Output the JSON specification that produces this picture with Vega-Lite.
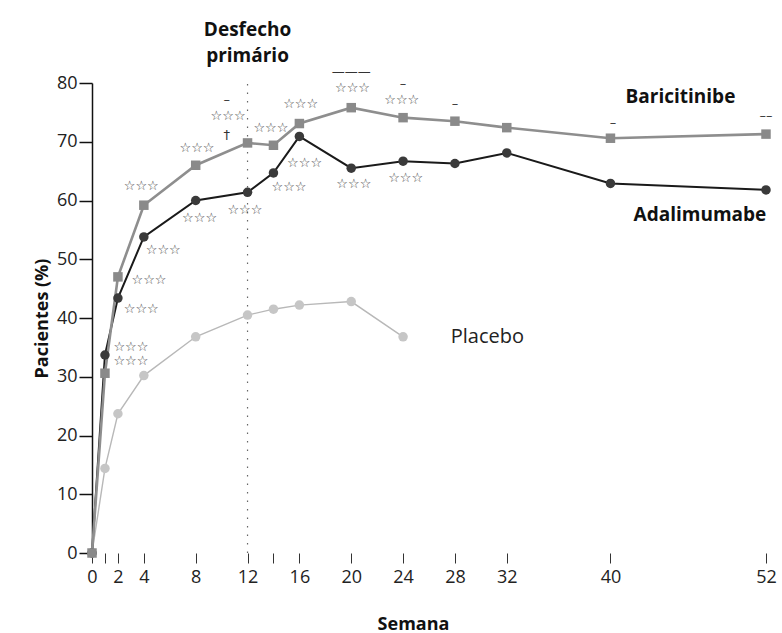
{
  "$schema": "https://vega.github.io/schema/vega-lite/v6.json",
  "width": 674,
  "height": 470,
  "autosize": {"type": "none"},
  "padding": {"left": 92, "top": 83, "right": 16, "bottom": 80},
  "background": "white",
  "config": {
    "view": {"stroke": null},
    "axis": {
      "labelFont": "Open Sans",
      "labelFontSize": 18,
      "labelColor": "#222",
      "titleFont": "Open Sans",
      "titleFontSize": 18,
      "titleFontWeight": "bold",
      "titleColor": "#111",
      "grid": false
    }
  },
  "datasets": {
    "series": [
      {"series": "Placebo", "week": 0, "value": 0},
      {"series": "Placebo", "week": 1, "value": 14.4},
      {"series": "Placebo", "week": 2, "value": 23.7},
      {"series": "Placebo", "week": 4, "value": 30.2},
      {"series": "Placebo", "week": 8, "value": 36.8},
      {"series": "Placebo", "week": 12, "value": 40.5},
      {"series": "Placebo", "week": 14, "value": 41.5},
      {"series": "Placebo", "week": 16, "value": 42.2},
      {"series": "Placebo", "week": 20, "value": 42.8},
      {"series": "Placebo", "week": 24, "value": 36.8},
      {"series": "Adalimumabe", "week": 0, "value": 0},
      {"series": "Adalimumabe", "week": 1, "value": 33.7},
      {"series": "Adalimumabe", "week": 2, "value": 43.4},
      {"series": "Adalimumabe", "week": 4, "value": 53.8},
      {"series": "Adalimumabe", "week": 8, "value": 60.0},
      {"series": "Adalimumabe", "week": 12, "value": 61.4},
      {"series": "Adalimumabe", "week": 14, "value": 64.7},
      {"series": "Adalimumabe", "week": 16, "value": 70.9},
      {"series": "Adalimumabe", "week": 20, "value": 65.5},
      {"series": "Adalimumabe", "week": 24, "value": 66.7},
      {"series": "Adalimumabe", "week": 28, "value": 66.3},
      {"series": "Adalimumabe", "week": 32, "value": 68.1},
      {"series": "Adalimumabe", "week": 40, "value": 62.9},
      {"series": "Adalimumabe", "week": 52, "value": 61.8},
      {"series": "Baricitinibe", "week": 0, "value": 0},
      {"series": "Baricitinibe", "week": 1, "value": 30.6},
      {"series": "Baricitinibe", "week": 2, "value": 47.0},
      {"series": "Baricitinibe", "week": 4, "value": 59.2},
      {"series": "Baricitinibe", "week": 8, "value": 66.0},
      {"series": "Baricitinibe", "week": 12, "value": 69.8},
      {"series": "Baricitinibe", "week": 14, "value": 69.4},
      {"series": "Baricitinibe", "week": 16, "value": 73.1},
      {"series": "Baricitinibe", "week": 20, "value": 75.8},
      {"series": "Baricitinibe", "week": 24, "value": 74.1},
      {"series": "Baricitinibe", "week": 28, "value": 73.5},
      {"series": "Baricitinibe", "week": 32, "value": 72.4},
      {"series": "Baricitinibe", "week": 40, "value": 70.6},
      {"series": "Baricitinibe", "week": 52, "value": 71.3}
    ],
    "stars": [
      {"week": 3.8, "value": 62.5, "t": "☆☆☆"},
      {"week": 5.5, "value": 51.5, "t": "☆☆☆"},
      {"week": 4.4, "value": 46.5, "t": "☆☆☆"},
      {"week": 3.8, "value": 41.5, "t": "☆☆☆"},
      {"week": 3.0, "value": 35.1, "t": "☆☆☆"},
      {"week": 3.0, "value": 32.6, "t": "☆☆☆"},
      {"week": 8.1, "value": 68.9, "t": "☆☆☆"},
      {"week": 8.3, "value": 57.1, "t": "☆☆☆"},
      {"week": 10.5, "value": 74.4, "t": "☆☆☆"},
      {"week": 11.8, "value": 58.3, "t": "☆☆☆"},
      {"week": 13.8, "value": 72.4, "t": "☆☆☆"},
      {"week": 15.2, "value": 62.3, "t": "☆☆☆"},
      {"week": 16.4, "value": 66.4, "t": "☆☆☆"},
      {"week": 16.1, "value": 76.4, "t": "☆☆☆"},
      {"week": 20.1, "value": 79.1, "t": "☆☆☆"},
      {"week": 20.2, "value": 62.8, "t": "☆☆☆"},
      {"week": 23.9, "value": 77.1, "t": "☆☆☆"},
      {"week": 24.2, "value": 63.8, "t": "☆☆☆"}
    ],
    "marks": [
      {"week": 10.4, "value": 77.1, "t": "–"},
      {"week": 10.4, "value": 71.1, "t": "†"},
      {"week": 20.0, "value": 81.8, "t": "———"},
      {"week": 24.0, "value": 79.8, "t": "–"},
      {"week": 28.0, "value": 76.4, "t": "–"},
      {"week": 40.2, "value": 73.2, "t": "–"},
      {"week": 52.0, "value": 74.3, "t": "––"}
    ],
    "boldLabels": [
      {"week": 45.4, "value": 77.6, "t": "Baricitinibe"},
      {"week": 46.9, "value": 57.5, "t": "Adalimumabe"},
      {"week": 12.0, "value": 89.0, "t": "Desfecho"},
      {"week": 12.0, "value": 84.6, "t": "primário"}
    ],
    "plainLabels": [
      {"week": 30.5, "value": 36.8, "t": "Placebo"}
    ],
    "ref": [
      {"week": 12, "y1": 0, "y2": 80.5}
    ]
  },
  "layer": [
    {
      "data": {"name": "ref"},
      "mark": {"type": "rule", "color": "#666", "strokeWidth": 1.2, "strokeDash": [1.5, 7]},
      "encoding": {
        "x": {"field": "week", "type": "quantitative"},
        "y": {"field": "y1", "type": "quantitative"},
        "y2": {"field": "y2"}
      }
    },
    {
      "data": {"name": "series"},
      "mark": {"type": "line"},
      "encoding": {
        "x": {
          "field": "week",
          "type": "quantitative",
          "scale": {"domain": [0, 52], "nice": false, "zero": false},
          "axis": {
            "title": "Semana",
            "values": [0, 1, 2, 4, 8, 12, 14, 16, 20, 24, 28, 32, 40, 52],
            "labelExpr": "datum.value == 1 || datum.value == 14 ? '' : datum.label",
            "domain": false,
            "ticks": true,
            "tickColor": "#333",
            "tickSize": 10,
            "tickWidth": 1,
            "labelPadding": 5,
            "labelFlush": false,
            "labelOverlap": false,
            "titleX": 321,
            "titleY": 62,
            "titleAnchor": "middle"
          }
        },
        "y": {
          "field": "value",
          "type": "quantitative",
          "scale": {"domain": [0, 80], "nice": false},
          "axis": {
            "title": "Pacientes (%)",
            "values": [0, 10, 20, 30, 40, 50, 60, 70, 80],
            "domainColor": "#111",
            "domainWidth": 1.5,
            "tickColor": "#111",
            "tickWidth": 1.5,
            "tickSize": 13,
            "labelPadding": 2,
            "titlePadding": 5
          }
        },
        "color": {
          "field": "series",
          "type": "nominal",
          "scale": {"domain": ["Placebo", "Adalimumabe", "Baricitinibe"], "range": ["#b8b8b8", "#1a1a1a", "#8e8e8e"]},
          "legend": null
        },
        "strokeWidth": {
          "field": "series",
          "type": "nominal",
          "scale": {"domain": ["Placebo", "Adalimumabe", "Baricitinibe"], "range": [1.4, 2.6, 2]},
          "legend": null
        }
      }
    },
    {
      "data": {"name": "series"},
      "mark": {"type": "point", "filled": true, "opacity": 1, "size": 90},
      "encoding": {
        "x": {"field": "week", "type": "quantitative"},
        "y": {"field": "value", "type": "quantitative"},
        "shape": {
          "field": "series",
          "type": "nominal",
          "scale": {"domain": ["Placebo", "Adalimumabe", "Baricitinibe"], "range": ["circle", "circle", "square"]},
          "legend": null
        },
        "fill": {
          "field": "series",
          "type": "nominal",
          "scale": {"domain": ["Placebo", "Adalimumabe", "Baricitinibe"], "range": ["#c6c6c6", "#3a3a3a", "#8a8a8a"]},
          "legend": null
        }
      }
    },
    {
      "data": {"name": "stars"},
      "mark": {"type": "text", "font": "DejaVu Sans", "fontSize": 13, "color": "#444", "align": "center", "baseline": "middle"},
      "encoding": {
        "x": {"field": "week", "type": "quantitative"},
        "y": {"field": "value", "type": "quantitative"},
        "text": {"field": "t"}
      }
    },
    {
      "data": {"name": "marks"},
      "mark": {"type": "text", "font": "DejaVu Sans", "fontSize": 13, "color": "#333", "align": "center", "baseline": "middle"},
      "encoding": {
        "x": {"field": "week", "type": "quantitative"},
        "y": {"field": "value", "type": "quantitative"},
        "text": {"field": "t"}
      }
    },
    {
      "data": {"name": "boldLabels"},
      "mark": {"type": "text", "font": "Open Sans", "fontSize": 19, "fontWeight": "bold", "color": "#111", "align": "center", "baseline": "middle"},
      "encoding": {
        "x": {"field": "week", "type": "quantitative"},
        "y": {"field": "value", "type": "quantitative"},
        "text": {"field": "t"}
      }
    },
    {
      "data": {"name": "plainLabels"},
      "mark": {"type": "text", "font": "Open Sans", "fontSize": 20, "color": "#222", "align": "center", "baseline": "middle"},
      "encoding": {
        "x": {"field": "week", "type": "quantitative"},
        "y": {"field": "value", "type": "quantitative"},
        "text": {"field": "t"}
      }
    }
  ]
}
